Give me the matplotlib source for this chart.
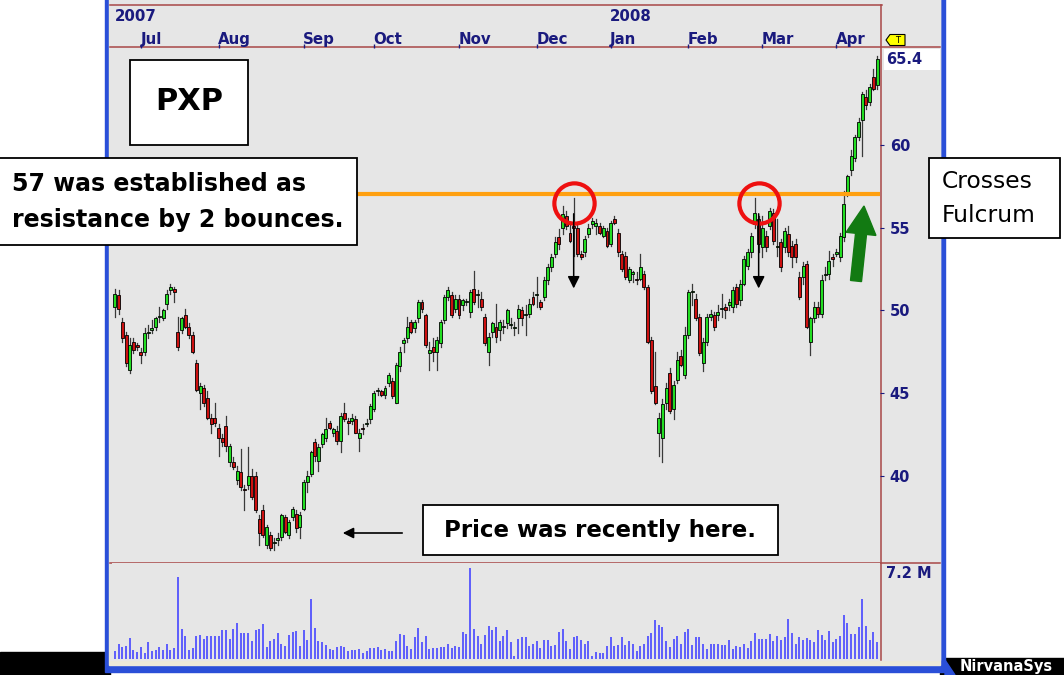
import matplotlib
matplotlib.use("Agg")
import matplotlib.pyplot as plt
from matplotlib.patches import Rectangle, FancyArrow, Polygon
from matplotlib.transforms import blended_transform_factory
import pandas as pd

plt.rcParams['font.family'] = ['DejaVu Sans']

# ---------------- data (PXP daily OHLC, Jun 2007 - Apr 2008) ----------------
opens = [
    50.2, 50.9, 49.3, 48.5, 46.4, 48.1, 47.9, 47.5, 47.5, 48.6,
    48.8, 49.0, 49.6, 49.5, 50.4, 51.2, 51.3, 48.7, 48.8, 49.7,
    49.0, 48.5, 46.8, 45.0, 45.3, 44.7, 43.5, 43.5, 42.9, 42.3,
    43.0, 40.8, 40.8, 39.7, 40.2, 39.2, 39.4, 40.0, 40.0, 37.4,
    37.9, 35.8, 36.4, 35.9, 36.1, 36.3, 37.5, 36.4, 37.5, 37.7,
    36.9, 38.0, 39.6, 40.1, 42.0, 40.9, 41.9, 42.3, 43.2, 42.6,
    42.7, 42.1, 43.8, 43.3, 43.3, 43.4, 42.3, 42.9, 43.1, 43.4,
    44.0, 45.1, 45.1, 44.9, 45.6, 45.7, 44.4, 46.6, 48.0, 48.3,
    49.3, 48.9, 49.5, 50.5, 49.7, 47.4, 47.8, 47.5, 48.0, 49.4,
    50.8, 50.9, 50.1, 50.7, 50.3, 50.5, 49.9, 51.3, 50.9, 50.7,
    49.6, 47.5, 48.7, 49.0, 48.8, 49.0, 49.2, 49.1, 48.9, 49.5,
    50.0, 49.7, 49.8, 50.8, 50.9, 50.5, 50.8, 51.8, 52.6, 53.4,
    54.4, 55.0, 55.7, 54.7, 55.1, 55.0, 53.4, 53.5, 54.6, 55.2,
    55.1, 55.1, 54.5, 54.8, 54.0, 55.5, 54.7, 53.4, 53.3, 51.8,
    52.2, 51.9, 51.9, 52.2, 51.4, 48.2, 45.4, 42.6, 42.3, 44.4,
    46.2, 44.0, 45.8, 47.2, 46.1, 48.5, 51.1, 50.7, 49.6, 46.8,
    48.1, 49.6, 49.7, 49.7, 50.1, 50.2, 50.3, 50.2, 51.4, 50.6,
    51.6, 52.7, 53.5, 55.2, 55.5, 53.8, 54.5, 55.1, 55.9, 53.8,
    54.1, 53.8, 54.6, 53.9, 54.0, 52.0, 52.0, 52.8, 48.1, 49.5,
    50.2, 49.8, 52.1, 52.2, 53.2, 53.4, 53.2, 54.4, 57.1, 58.5,
    59.2, 60.5, 61.5, 62.9, 62.6, 64.1, 63.6,
]
highs = [
    51.3, 51.2, 49.5, 48.7, 48.3, 48.3, 48.0, 47.7, 48.9, 49.1,
    49.4, 49.6, 50.2, 50.1, 51.2, 51.6, 51.4, 49.6, 49.6, 50.1,
    49.2, 48.7, 47.0, 45.6, 45.5, 45.1, 43.7, 44.4, 43.1, 42.5,
    43.6, 41.9, 41.1, 40.6, 41.6, 39.4, 41.7, 40.4, 40.2, 37.6,
    38.2, 37.0, 36.6, 36.2, 36.5, 37.7, 37.6, 37.3, 38.1, 37.9,
    37.8, 39.7, 40.3, 41.5, 42.2, 41.9, 42.6, 43.5, 43.3, 42.9,
    43.0, 43.8, 44.4, 43.5, 43.7, 43.6, 42.8, 43.1, 43.4, 44.3,
    45.1, 45.3, 45.2, 45.4, 46.2, 45.9, 46.8, 47.8, 48.3, 49.6,
    49.4, 49.4, 50.6, 50.6, 49.8, 48.1, 48.3, 48.4, 49.4, 50.9,
    51.4, 51.1, 50.9, 50.9, 50.7, 50.7, 51.2, 52.4, 51.2, 51.1,
    49.8, 48.6, 49.3, 50.4, 49.4, 49.4, 50.1, 49.5, 49.3, 50.3,
    50.2, 50.3, 50.7, 51.1, 52.0, 50.6, 52.0, 52.8, 53.4, 54.4,
    54.9, 56.3, 56.0, 55.2, 56.8, 55.2, 53.6, 54.5, 55.2, 55.6,
    55.5, 55.3, 55.1, 55.0, 55.4, 55.7, 54.9, 53.6, 53.5, 52.6,
    52.4, 52.3, 53.4, 52.4, 51.5, 48.4, 47.5, 43.8, 44.6, 45.6,
    46.5, 45.7, 47.5, 47.6, 49.0, 51.2, 51.6, 51.0, 49.8, 48.3,
    49.8, 50.0, 49.9, 50.3, 51.0, 50.4, 50.7, 51.4, 51.6, 51.8,
    53.3, 53.7, 54.7, 56.8, 55.7, 55.7, 54.8, 56.2, 56.1, 55.5,
    54.3, 55.0, 55.1, 54.2, 54.3, 52.3, 52.9, 53.0, 49.6, 50.5,
    50.5, 52.1, 52.6, 53.6, 53.4, 53.7, 54.7, 57.2, 58.2, 59.7,
    60.6, 61.6, 63.2, 63.3, 63.7, 64.6, 65.4,
]
lows = [
    49.6, 49.8, 48.1, 46.6, 46.2, 47.4, 47.6, 46.8, 47.3, 48.3,
    48.6, 48.8, 49.3, 49.4, 50.1, 51.0, 50.5, 47.6, 48.6, 48.9,
    48.3, 47.4, 45.1, 44.0, 44.2, 43.4, 42.6, 43.0, 41.2, 41.8,
    41.5, 40.6, 40.4, 39.5, 39.1, 37.9, 39.2, 38.6, 37.8, 35.8,
    36.3, 35.6, 35.5, 35.5, 35.8, 36.1, 36.5, 36.2, 37.3, 36.6,
    36.2, 37.9, 39.0, 40.0, 40.9, 40.3, 41.7, 42.1, 42.8, 42.4,
    41.9, 41.4, 43.3, 42.5, 43.1, 42.6, 41.5, 42.5, 43.0, 43.2,
    43.9, 44.9, 44.8, 44.7, 45.4, 44.7, 44.4, 46.3, 47.5, 48.1,
    48.6, 48.7, 49.3, 49.9, 47.8, 46.4, 46.9, 46.4, 47.8, 49.2,
    50.6, 49.6, 49.9, 49.5, 50.0, 50.3, 49.6, 50.4, 50.2, 50.0,
    47.9, 46.7, 48.4, 48.1, 48.2, 48.6, 48.9, 48.9, 48.5, 48.6,
    49.1, 48.5, 49.6, 50.3, 50.2, 50.1, 50.6, 51.6, 52.4, 53.2,
    53.7, 54.6, 54.9, 54.1, 53.3, 53.3, 53.1, 53.3, 54.4, 55.0,
    54.6, 54.6, 54.4, 53.8, 53.9, 55.2, 53.3, 52.4, 51.9, 51.7,
    51.7, 51.6, 51.8, 51.3, 48.0, 45.0, 44.3, 41.2, 40.8, 44.0,
    43.8, 43.4, 45.6, 46.6, 45.9, 48.3, 50.3, 49.4, 47.3, 46.3,
    47.9, 49.4, 48.8, 49.4, 49.6, 49.5, 50.0, 49.9, 50.2, 50.3,
    51.5, 52.5, 53.2, 55.0, 53.5, 53.2, 53.6, 54.9, 54.0, 53.3,
    52.4, 53.5, 53.3, 52.6, 52.9, 50.7, 51.6, 48.9, 47.3, 49.3,
    49.6, 49.6, 51.8, 51.9, 52.7, 53.3, 53.0, 54.2, 56.9, 58.2,
    59.0, 60.3, 59.3, 62.2, 62.4, 63.3, 63.4,
]
closes = [
    51.0, 50.1, 48.3, 46.8, 47.9, 47.6, 47.8, 47.3, 48.6, 48.6,
    48.9, 49.5, 49.6, 50.0, 51.0, 51.4, 51.1, 47.8, 49.5, 49.0,
    48.5, 47.5, 45.2, 45.4, 44.4, 43.5, 43.1, 43.2, 42.3, 42.0,
    41.8, 41.8, 40.5, 40.3, 39.3, 39.1, 40.0, 38.7, 37.9, 36.5,
    36.4, 36.9, 35.6, 36.0, 36.2, 37.6, 36.6, 37.2, 38.0, 36.8,
    37.6, 39.6, 40.0, 41.4, 41.2, 41.7, 42.5, 42.8, 42.9, 42.8,
    42.1, 43.6, 43.4, 43.2, 43.5, 42.6, 42.6, 42.8, 43.2, 44.2,
    45.0, 45.1, 44.9, 45.3, 46.1, 44.8, 46.7, 47.5, 48.2, 49.0,
    48.7, 49.3, 50.5, 50.1, 47.9, 47.6, 47.5, 48.2, 49.3, 50.8,
    51.2, 49.7, 50.7, 49.7, 50.6, 50.5, 51.1, 50.5, 50.9, 50.2,
    48.0, 48.4, 49.2, 48.4, 49.3, 49.0, 50.0, 49.1, 48.9, 50.1,
    49.5, 49.7, 50.4, 50.4, 50.9, 50.2, 51.8, 52.6, 53.2, 54.1,
    54.0, 55.8, 55.1, 54.2, 55.0, 53.4, 53.2, 54.3, 55.0, 55.4,
    55.3, 54.7, 55.0, 53.9, 55.3, 55.3, 53.5, 52.5, 52.0, 52.5,
    52.3, 51.8, 52.6, 51.4, 48.1, 45.1, 44.4, 43.5, 44.3, 45.3,
    43.9, 45.5, 47.0, 46.7, 48.5, 51.1, 51.1, 49.5, 47.4, 48.1,
    49.6, 49.8, 49.0, 49.9, 50.1, 50.0, 50.5, 51.2, 50.4, 51.6,
    53.1, 53.5, 54.5, 55.9, 54.0, 55.0, 53.8, 56.0, 54.2, 53.9,
    52.6, 54.8, 53.5, 53.2, 53.2, 50.8, 52.7, 49.0, 49.5, 50.2,
    49.8, 51.8, 52.2, 53.0, 53.1, 53.5, 54.5, 56.4, 58.1, 59.3,
    60.5, 61.4, 63.1, 62.4, 63.5, 63.4, 65.2,
]
volume_k = [  # thousands of shares
    640, 1200, 960, 1040, 1680, 720, 560, 960, 480, 1360,
    640, 720, 960, 720, 1200, 720, 880, 6560, 2400, 1840,
    720, 880, 1840, 1920, 1600, 1840, 1840, 1840, 1840, 2320,
    2320, 1600, 2400, 2880, 2080, 2080, 2080, 1440, 2320, 2400,
    2800, 960, 1440, 1600, 2080, 1200, 1040, 1920, 2160, 2240,
    1040, 2320, 1520, 4800, 2480, 1440, 1360, 1120, 800, 720,
    960, 1040, 960, 640, 720, 720, 800, 480, 640, 880,
    880, 960, 720, 800, 640, 640, 1440, 2000, 1920, 1040,
    800, 1760, 2480, 1360, 1840, 800, 880, 880, 960, 960,
    1200, 880, 1040, 960, 2160, 2000, 7280, 2400, 1840, 1200,
    1920, 2640, 2320, 2560, 1440, 1840, 2320, 1360, 240, 1600,
    1760, 1760, 1040, 1200, 1440, 880, 1520, 1520, 1040, 1120,
    2160, 2400, 1440, 800, 1760, 1840, 1520, 1200, 1440, 240,
    560, 480, 480, 1040, 1760, 1040, 1120, 1760, 1120, 1440,
    1200, 640, 1040, 1200, 1840, 2080, 3120, 2720, 2560, 1440,
    960, 1600, 1840, 1200, 2160, 2400, 1120, 1760, 1760, 1200,
    800, 1200, 1200, 1200, 1120, 1120, 1520, 800, 1040, 960,
    1200, 880, 1440, 2080, 1600, 1600, 1600, 2000, 1440, 1840,
    1520, 1760, 3200, 2080, 1200, 1760, 1520, 1680, 1520, 1360,
    2320, 1920, 1520, 2240, 1360, 1600, 1840, 3520, 2880, 2000,
    2000, 2560, 4800, 2640, 1520, 2160, 1360,
]
holidays = ['2007-07-04', '2007-09-03', '2007-11-22', '2007-12-25',
            '2008-01-01', '2008-01-21', '2008-02-18', '2008-03-21']
dates = pd.bdate_range(start='2007-06-21', periods=len(closes), freq='C',
                       holidays=holidays)
price_ticks = [40, 45, 50, 55, 60]
resistance = 57
last_label = '65.4'
vol_label = '7.2 M'

# ---------------- layout ----------------
W, H = 1064, 675
NAVY = '#1a1a7e'
FRAME = '#a84848'
GRAY = '#e6e6e6'
fig = plt.figure(figsize=(W / 100, H / 100), dpi=100)
fig.patch.set_facecolor('white')


def rect(x0, y0, x1, y1):
    return [x0 / W, 1 - y1 / H, (x1 - x0) / W, (y1 - y0) / H]


bg = fig.add_axes([0, 0, 1, 1])
bg.set_xlim(0, W)
bg.set_ylim(H, 0)
bg.axis('off')
bg.add_patch(Rectangle((0, 652), 110, 23, color='black'))
bg.add_patch(Rectangle((940, 658), 124, 17, color='black'))
bg.add_patch(Rectangle((105, -2), 840, 674, color='#2a4fd8'))
bg.add_patch(Rectangle((109, -2), 831, 667, color='#ece9d8'))
bg.add_patch(Rectangle((110, -2), 830, 662, color=GRAY))
bg.plot([110, 882], [5, 5], color=FRAME, lw=1.1)
bg.plot([110, 940], [47, 47], color=FRAME, lw=1.1)
bg.plot([110, 940], [562.5, 562.5], color=FRAME, lw=1.1)
bg.plot([880.5, 880.5], [5, 660], color=FRAME, lw=1.1)

n = len(closes)
ax = fig.add_axes(rect(112, 47.5, 880, 562))
ax.set_facecolor(GRAY)
ax.set_xlim(-0.8, n - 0.2)
ax.set_ylim(34.77, 65.89)
for s in ax.spines.values():
    s.set_visible(False)

# candles
for i in range(n):
    o, h, l, c = opens[i], highs[i], lows[i], closes[i]
    ax.plot([i, i], [l, h], color='#3a3a3a', lw=0.9, zorder=2)
    up = c >= o
    body = max(abs(c - o), 0.06)
    ax.add_patch(Rectangle((i - 0.4, min(o, c)), 0.8, body,
                           facecolor='#22dd22' if up else '#cc1010',
                           edgecolor='black', lw=0.6, zorder=3))

# month ticks / labels
month_idx = [i for i in range(1, n) if dates[i].month != dates[i - 1].month]
ax.xaxis.tick_top()
ax.set_xticks(month_idx)
ax.set_xticklabels([])
ax.tick_params(axis='x', length=3, color=NAVY, direction='out', width=1)
tr = blended_transform_factory(ax.transData, fig.transFigure)
for i in month_idx:
    ax.text(i - 0.1, 1 - 44 / H, dates[i].strftime('%b'), transform=tr,
            color=NAVY, fontsize=10.8, fontweight='bold', ha='left',
            va='baseline')
    if dates[i].month == 1:
        ax.text(i - 0.1, 1 - 21 / H, str(dates[i].year), transform=tr,
                color=NAVY, fontsize=10.8, fontweight='bold', ha='left',
                va='baseline')
ax.text(0, 1 - 21 / H, str(dates[0].year), transform=tr, color=NAVY,
        fontsize=10.8, fontweight='bold', ha='left', va='baseline')

ax.yaxis.tick_right()
ax.set_yticks(price_ticks)
ax.set_yticklabels([str(t) for t in price_ticks])
ax.tick_params(axis='y', length=3, color=NAVY, direction='out', pad=4,
               labelcolor=NAVY, labelsize=10.5)
for lab in ax.get_yticklabels():
    lab.set_fontweight('bold')

# resistance line, circles, arrows
ax.axhline(resistance, color='#ffa010', lw=3.0, zorder=4)
peak1 = max(range(100, 140), key=lambda k: highs[k])
peak2 = max(range(160, 185), key=lambda k: highs[k])
for px in (peak1, peak2 + 1):
    ax.plot(px, 56.47, 'o', ms=29, mfc='none', mec='#ee1010', mew=3.0,
            zorder=6)
    ax.annotate('', xy=(px, 51.15), xytext=(px, 56.0),
                arrowprops=dict(arrowstyle='-|>', color='black', lw=1.1,
                                mutation_scale=18), zorder=6)

# volume pane
vax = fig.add_axes(rect(112, 563, 880, 659))
vax.set_facecolor(GRAY)
vax.set_xlim(-0.8, n - 0.2)
vax.set_ylim(0, 7680)
for s in vax.spines.values():
    s.set_visible(False)
vax.set_xticks([])
vax.set_yticks([])
vax.vlines(range(n), 0, volume_k, color='#4c4cff', lw=1.25)

# ---------------- overlay annotations ----------------
ov = fig.add_axes([0, 0, 1, 1])
ov.set_xlim(0, W)
ov.set_ylim(H, 0)
ov.axis('off')
ov.patch.set_alpha(0)

ov.add_patch(Rectangle((884, 48.5), 56, 21, facecolor='white',
                       edgecolor='none'))
ov.text(886, 59.5, last_label, color=NAVY, fontsize=10.5, fontweight='bold',
        ha='left', va='center')
ov.add_patch(Polygon([(886, 40), (890, 34.5), (905, 34.5), (905, 45.5),
                      (890, 45.5)], closed=True, facecolor='#ffff00',
                     edgecolor='black', lw=0.8))
ov.text(897.5, 40.3, 'T', fontsize=6, ha='center', va='center',
        color='black')
ov.text(886, 573, vol_label, color=NAVY, fontsize=10.5, fontweight='bold',
        ha='left', va='center')

box = dict(facecolor='white', edgecolor='black', lw=1.3)
ov.add_patch(Rectangle((130, 60), 118, 85, **box))
ov.text(189, 102, 'PXP', fontsize=22, fontweight='bold', ha='center',
        va='center')
ov.add_patch(Rectangle((-2, 158), 359, 87, **box))
ov.text(12, 184, '57 was established as', fontsize=17, fontweight='bold',
        ha='left', va='center')
ov.text(12, 220, 'resistance by 2 bounces.', fontsize=17,
        fontweight='bold', ha='left', va='center')
ov.add_patch(Rectangle((929, 158), 131, 80, **box))
ov.text(942, 182, 'Crosses', fontsize=16.8, ha='left', va='center')
ov.text(942, 215, 'Fulcrum', fontsize=16.8, ha='left', va='center')
ov.add_patch(Rectangle((423, 505), 355, 50, **box))
ov.text(600, 530, 'Price was recently here.', fontsize=16.5,
        fontweight='bold', ha='center', va='center')
ov.annotate('', xy=(340, 533), xytext=(405, 533),
            arrowprops=dict(arrowstyle='-|>', color='black', lw=1.2,
                            mutation_scale=16))
ov.add_patch(FancyArrow(856, 281, 8, -75, width=11, head_width=30,
                        head_length=28, length_includes_head=True,
                        color='#127a12'))
ov.add_patch(Polygon([(945, 660), (955, 675), (945, 675)], closed=True,
                     color='#2a4fd8'))
ov.text(960, 667, 'NirvanaSys', color='white', fontsize=10.5,
        fontweight='bold', ha='left', va='center')

fig.savefig('out.png', dpi=100, facecolor='white')
